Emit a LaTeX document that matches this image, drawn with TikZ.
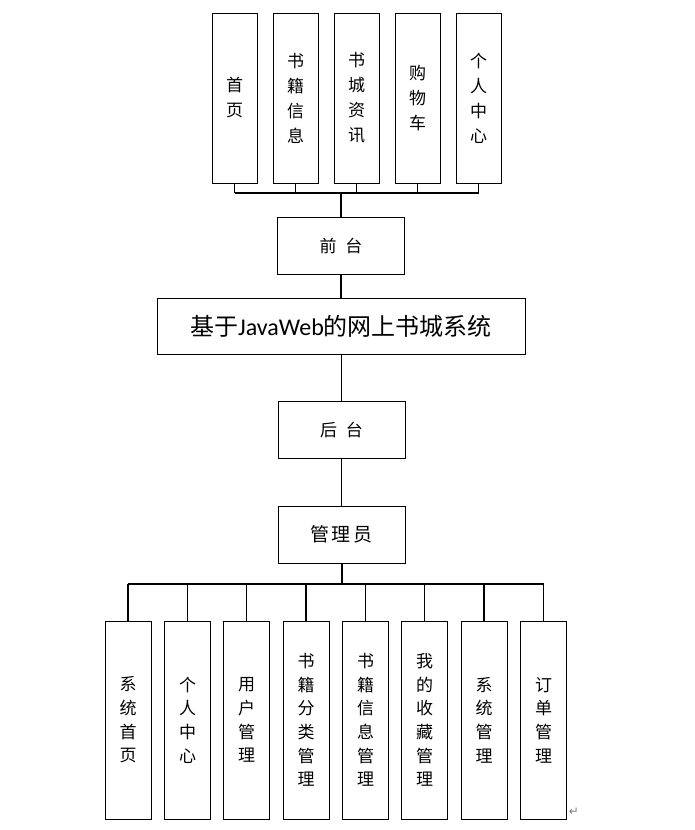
\documentclass[tikz,border=0pt]{standalone}
\usepackage{fontspec}
\setmainfont{Carlito}
\newfontfamily\cjk{Noto Sans CJK SC}
\newfontfamily\symf{DejaVu Sans}
\begin{document}
\begin{tikzpicture}[x=1pt,y=-1pt,
  box/.style={draw=black,line width=0.9pt,inner sep=0pt,align=center},
  tallbox/.style={box,minimum width=45pt,minimum height=170pt,font=\cjk\fontsize{17}{25}\selectfont},
  lowbox/.style={box,minimum width=46pt,minimum height=198pt,font=\cjk\fontsize{17}{23.7}\selectfont},
  midbox/.style={box,minimum width=127pt,minimum height=57pt,font=\cjk\fontsize{17}{24}\selectfont},
  conn/.style={draw=black,line width=1.4pt}]
\useasboundingbox (0,0) rectangle (695,830);
% top
\node[tallbox] (t1) at (234.5,98) {首\\页};
\node[tallbox] (t2) at (295.5,98) {书\\籍\\信\\息};
\node[tallbox] (t3) at (356.5,98) {书\\城\\资\\讯};
\node[tallbox] (t4) at (417.5,98) {购\\物\\车};
\node[tallbox] (t5) at (478.5,98) {个\\人\\中\\心};
\node[midbox] (qt) at (341,245.5) {前\hspace{9pt}台};
\node[box,minimum width=368pt,minimum height=56pt,font=\fontsize{24}{26}\selectfont] (main) at (341,326) {{\cjk 基于}JavaWeb{\cjk 的网上书城系统}};
\node[midbox] (ht) at (341.5,430) {后\hspace{9pt}台};
\node[midbox,font=\cjk\fontsize{19}{24}\selectfont] (gly) at (341.5,534.5) {管\hspace{3pt}理\hspace{3pt}员};
% bottom
\node[lowbox] (b1) at (128,720) {系\\统\\首\\页};
\node[lowbox] (b2) at (187.5,720) {个\\人\\中\\心};
\node[lowbox] (b3) at (246.5,720) {用\\户\\管\\理};
\node[lowbox] (b4) at (306,720) {书\\籍\\分\\类\\管\\理};
\node[lowbox] (b5) at (365.5,720) {书\\籍\\信\\息\\管\\理};
\node[lowbox] (b6) at (424.5,720) {我\\的\\收\\藏\\管\\理};
\node[lowbox] (b7) at (484,720) {系\\统\\管\\理};
\node[lowbox] (b8) at (543.5,720) {订\\单\\管\\理};
% connectors top
\coordinate (tbus) at (341,193);
\foreach \i in {1,...,5}{
  \draw[conn,line width=1pt] (t\i.south) -- (t\i.south |- tbus);
}
\draw[conn] (t1.south |- tbus) -- (t5.south |- tbus);
\draw[conn,line width=2pt] (tbus) -- (qt.north);
\draw[conn,line width=1.2pt] (qt.south) -- (qt.south |- main.north);
\draw[conn,line width=0.9pt] (main.south -| ht.north) -- (ht.north);
\draw[conn,line width=0.9pt] (ht.south) -- (gly.north);
% connectors bottom
\coordinate (bbus) at (341.5,584);
\draw[conn,line width=2pt] (gly.south) -- (bbus);
\draw[conn,line width=1.8pt] (b1.north |- bbus) -- (b8.north |- bbus);
\foreach \i in {1,...,8}{
  \draw[conn] (b\i.north |- bbus) -- (b\i.north);
}
\node[text=gray,font=\symf\fontsize{12}{12}\selectfont,inner sep=0pt] (pm) at (574,812) {↵};
\end{tikzpicture}
\end{document}
